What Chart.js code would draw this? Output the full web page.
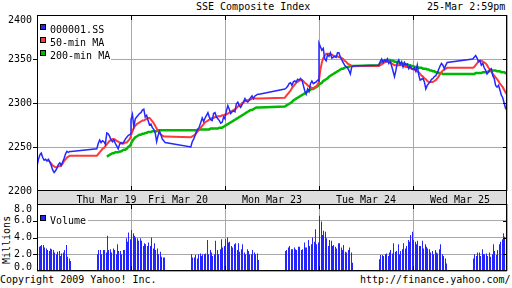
<!DOCTYPE html>
<html>
<head>
<meta charset="utf-8">
<script src="https://cdn.jsdelivr.net/npm/chart.js@4/dist/chart.umd.min.js"></script>
<style>
body{margin:0;background:#fff;width:512px;height:288px;overflow:hidden;position:relative;font:10px "DejaVu Sans Mono",monospace;color:#000}
canvas{position:absolute;left:0}
.t{position:absolute;white-space:pre;line-height:12px}
</style>
</head>
<body>
<div class="t" style="left:196px;top:1px">SSE Composite Index</div>
<div class="t" style="left:427px;top:1px">25-Mar 2:59pm</div>
<div class="t" style="left:-17px;top:234px;width:48px;text-align:center;transform:rotate(-90deg)">Millions</div>
<div class="t" style="left:0;top:274px">Copyright 2009 Yahoo! Inc.</div>
<div class="t" style="left:360px;top:274px">http://finance.yahoo.com/</div>
<canvas id="priceChart" width="512" height="205" style="top:0"></canvas>
<canvas id="volChart" width="512" height="84" style="top:204px"></canvas>
<script>
// x axis = minutes after 9:30, lunch break kept, overnight removed (330 min per day)
const days = ["Thu Mar 19", "Fri Mar 20", "Mon Mar 23", "Tue Mar 24", "Wed Mar 25"]
const dayLabelAt = [244, 495, 825, 1155, 1485]
const dayEdges = [0, 330, 660, 990, 1320, 1650]
const sessionOpen = [0, 210]
const dayLength = 330
const priceTicks = [2200, 2250, 2300, 2350, 2400]
const volumeTicks = [0, 2, 4, 6, 8]

// 5-min points, 25 for the morning (9:30-11:30) then 25 for the afternoon (13:00-15:00)
const indexThu = [2228,2236,2241,2243,2238,2235,2236,2234,2236,2233,2229,2224,2221,2223,2226,2230,2232,2229,2233,2237,2242,2245,2244,2245,2245,
                  2248,2254,2258,2255,2257,2256,2253,2266,2265,2262,2258,2256,2258,2254,2251,2248,2253,2255,2254,2256,2259,2261,2263,2264,2265]
const indexFri = [2281,2287,2273,2282,2284,2286,2288,2289,2292,2293,2284,2286,2280,2275,2276,2272,2270,2266,2256,2263,2268,2264,2259,2257,2255,
                  2250,2256,2259,2263,2268,2270,2273,2278,2283,2279,2283,2286,2289,2284,2281,2280,2288,2289,2284,2282,2280,2277,2278,2284,2282]
const indexMon = [2284,2291,2297,2293,2288,2290,2291,2290,2299,2301,2297,2295,2298,2301,2305,2302,2301,2303,2306,2308,2305,2308,2309,2310,2310,
                  2316,2317,2319,2322,2323,2320,2324,2325,2324,2327,2326,2328,2326,2320,2314,2310,2316,2313,2322,2325,2322,2323,2324,2326,2325]
const indexTue = [2368,2364,2360,2362,2350,2348,2355,2353,2357,2351,2352,2353,2352,2357,2357,2352,2349,2346,2343,2341,2340,2337,2333,2341,2342,
                  2343,2347,2350,2346,2349,2347,2350,2345,2347,2342,2336,2330,2337,2346,2349,2344,2347,2341,2346,2343,2344,2339,2342,2339,2338]
const indexWed = [2338,2340,2336,2343,2332,2326,2327,2328,2324,2316,2320,2322,2324,2327,2328,2330,2331,2334,2338,2342,2345,2343,2339,2343,2346,
                  2350,2352,2354,2351,2347,2348,2343,2345,2340,2337,2333,2335,2338,2339,2331,2328,2320,2318,2320,2315,2309,2306,2300,2294,2292]

const ma50Thu = [null,null,null,null,null,null,null,null,2235,2233,2231,2229,2228,2227,2227,2228,2228,2229,2231,2234,2236,2238,2239,2240,2240,
                 2240,2242,2244,2246,2248,2249,2251,2253,2255,2257,2258,2259,2259,2258,2257,2256,2255,2254,2254,2254,2255,2255,2257,2259,2262]
const ma50Fri = [2263,2268,2272,2274,2276,2277,2278,2279,2280,2280,2281,2282,2283,2283,2281,2279,2277,2274,2271,2268,2266,2264,2263,2262,2262,
                 2261,2262,2263,2264,2266,2268,2270,2272,2274,2276,2278,2279,2280,2281,2282,2283,2283,2284,2284,2285,2285,2285,2286,2286,2287]
const ma50Mon = [2287,2287,2288,2289,2290,2291,2292,2293,2294,2296,2297,2298,2300,2301,2302,2303,2303,2304,2304,2305,2305,2305,2305,2305,2305,
                 2306,2308,2310,2312,2314,2317,2319,2321,2323,2324,2325,2326,2326,2325,2323,2322,2320,2319,2318,2317,2317,2318,2319,2321,2324]
const ma50Tue = [2326,2338,2346,2351,2354,2356,2356,2356,2355,2355,2354,2353,2353,2353,2352,2352,2351,2350,2348,2347,2345,2344,2343,2342,2342,
                 2342,2343,2344,2345,2346,2347,2347,2347,2346,2345,2344,2343,2343,2343,2343,2343,2343,2342,2342,2341,2341,2340,2340,2339,2339]
const ma50Wed = [2339,2338,2337,2336,2335,2333,2331,2330,2328,2327,2325,2324,2324,2324,2324,2325,2326,2328,2330,2333,2335,2337,2338,2339,2340,
                 2340,2341,2343,2345,2347,2348,2348,2347,2346,2345,2343,2340,2338,2336,2333,2331,2329,2327,2325,2322,2320,2318,2315,2312,2310]

const ma200Thu = [null,null,null,null,null,null,null,null,null,null,null,null,null,null,null,null,null,null,null,null,null,null,null,null,null,
                  null,null,null,null,null,null,null,2239,2240,2241,2242,2243,2243,2244,2244,2244,2245,2245,2246,2247,2247,2248,2250,2251,2253]
const ma200Fri = [2254,2257,2259,2261,2262,2263,2264,2264,2265,2265,2266,2266,2267,2267,2267,2268,2268,2268,2268,2269,2269,2269,2269,2269,2269,
                  2269,2269,2269,2269,2269,2270,2270,2270,2270,2270,2270,2270,2270,2270,2271,2271,2271,2271,2271,2271,2272,2272,2272,2273,2274]
const ma200Mon = [2274,2275,2276,2277,2278,2279,2280,2281,2282,2283,2284,2285,2286,2287,2288,2289,2290,2291,2292,2292,2293,2294,2295,2295,2295,
                  2296,2297,2298,2299,2300,2301,2303,2304,2305,2306,2307,2308,2309,2310,2311,2312,2313,2314,2315,2316,2316,2317,2318,2319,2321]
const ma200Tue = [2321,2322,2323,2325,2326,2327,2328,2330,2331,2332,2333,2334,2335,2336,2337,2338,2339,2339,2340,2341,2341,2341,2342,2342,2342,
                  2343,2345,2347,2348,2348,2349,2349,2349,2349,2348,2348,2347,2347,2346,2346,2345,2345,2345,2344,2344,2344,2343,2343,2342,2342]
const ma200Wed = [2342,2341,2341,2341,2340,2340,2340,2339,2339,2339,2338,2338,2337,2337,2336,2336,2335,2335,2334,2334,2334,2333,2333,2333,2333,
                  2333,2333,2334,2334,2334,2334,2334,2335,2335,2335,2335,2336,2336,2337,2337,2337,2337,2336,2336,2336,2335,2335,2335,2334,2333]

// volume in millions, 5-min bars: 24 morning then 24 afternoon
const volThu = [2.6,2.9,3.0,3.1,3.1,2.8,2.7,2.5,2.4,2.7,2.6,2.5,2.2,2.0,2.3,2.4,1.8,2.1,2.2,2.5,3.1,1.7,1.5,1.2,
                2.0,2.5,2.5,2.0,2.5,2.5,2.2,4.2,2.5,2.6,2.2,2.7,2.5,2.0,3.2,2.4,2.4,2.0,2.5,2.5,3.9,3.5,4.6,3.8]
const volFri = [4.9,4.5,4.2,4.0,3.9,3.6,3.9,3.6,3.0,3.3,3.2,3.0,3.4,3.0,4.0,2.7,3.3,2.5,2.7,2.0,2.3,1.7,1.6,1.6,
                2.0,1.6,1.6,1.9,1.5,2.0,2.1,1.8,2.0,2.0,2.1,3.7,2.0,2.5,2.2,1.8,2.0,3.6,2.5,2.0,2.6,3.8,2.8,3.0]
const volMon = [3.8,4.0,3.4,3.5,3.0,2.8,3.2,3.3,2.5,3.3,2.3,2.6,3.2,2.2,2.0,2.6,2.4,2.0,2.0,2.5,2.2,2.0,2.1,1.3,
                2.4,2.5,2.8,3.0,2.6,2.6,2.8,2.6,2.5,2.9,2.9,2.5,2.6,3.4,2.8,2.8,3.7,3.0,3.2,4.0,3.5,5.0,3.2,3.4]
const volTue = [6.6,5.9,4.3,4.8,4.7,3.9,3.0,3.7,3.6,3.0,3.1,2.9,2.7,3.3,3.3,2.8,2.5,3.1,2.3,2.2,2.5,2.8,2.2,1.0,
                1.4,1.9,1.9,1.8,2.0,2.1,1.8,2.2,2.5,2.1,3.3,2.3,2.4,3.2,2.0,2.4,2.6,3.3,2.7,3.0,3.7,3.5,4.3,4.7]
const volWed = [3.7,3.5,3.2,3.6,3.0,3.0,3.6,2.7,3.2,2.9,2.7,2.6,2.2,2.4,2.0,2.5,2.2,2.1,2.6,3.2,2.0,1.8,1.5,0.9,
                1.5,2.0,1.8,2.2,2.2,1.8,2.6,2.0,2.0,2.1,1.8,2.2,1.7,2.0,3.2,2.4,1.9,2.5,3.2,3.5,3.8,4.5,4.1,6.6]

const FONT = '10px "DejaVu Sans Mono"'
const BLUE = '#2626ff'
const RED = '#ff3838'
const GREEN = '#00b800'
const GRID = '#a8a8a8'

function toPoints(dayArrays, offset){
    const pts = []
    dayArrays.forEach((vals, d) => {
        const perSession = vals.length / 2
        vals.forEach((v, i) => {
            const s = i < perSession ? 0 : 1
            pts.push({x: d * dayLength + sessionOpen[s] + (i % perSession) * 5 + offset, y: v})
        })
    })
    return pts
}

// black box, inner tick marks and y labels
const frame = {
    id: 'frame',
    afterDraw(chart, args, opts){
        const {ctx, chartArea: a, scales} = chart
        ctx.save()
        ctx.strokeStyle = '#000'
        ctx.lineWidth = 1
        ctx.strokeRect(a.left + 0.5, a.top + 0.5, a.right - a.left - 1, a.bottom - a.top - 1)
        ctx.beginPath()
        scales.x.ticks.forEach(t => {
            if (t.value <= scales.x.min || t.value >= scales.x.max) return
            const x = Math.round(scales.x.getPixelForValue(t.value)) + 0.5
            ctx.moveTo(x, a.top); ctx.lineTo(x, a.top + 5)
            ctx.moveTo(x, a.bottom); ctx.lineTo(x, a.bottom - 5)
        })
        scales.y.ticks.forEach(t => {
            if (t.value <= scales.y.min || t.value >= scales.y.max) return
            const y = Math.round(scales.y.getPixelForValue(t.value)) + 0.5
            ctx.moveTo(a.left - 4, y); ctx.lineTo(a.left, y)
            ctx.moveTo(a.right, y); ctx.lineTo(a.right - 4, y)
        })
        ctx.stroke()
        ctx.fillStyle = '#000'
        ctx.font = FONT
        ctx.textAlign = 'right'
        ctx.textBaseline = 'middle'
        scales.y.ticks.forEach(t => {
            let y = Math.max(scales.y.getPixelForValue(t.value), a.top + 5)
            if (opts.clampBottom) y = Math.min(y, a.bottom - 4)
            ctx.fillText(opts.format(t.value), a.left - 5, y)
        })
        ctx.restore()
    }
}

const boxLegend = {
    id: 'boxLegend',
    afterDatasetsDraw(chart, args, opts){
        const {ctx, chartArea: a} = chart
        ctx.save()
        ctx.fillStyle = '#fff'
        ctx.fillRect(a.left + 1, a.top + 1, opts.width, opts.height)
        ctx.font = FONT
        ctx.textBaseline = 'alphabetic'
        ctx.lineWidth = 1
        chart.data.datasets.forEach((ds, i) => {
            const top = a.top + opts.first + i * 13
            ctx.fillStyle = ds.backgroundColor
            ctx.fillRect(a.left + 3, top, 6, 6)
            ctx.strokeStyle = '#000'
            ctx.strokeRect(a.left + 3.5, top + 0.5, 5, 5)
            ctx.fillStyle = '#000'
            ctx.fillText(ds.label, a.left + 13, top + 8.5)
        })
        ctx.restore()
    }
}

const dateBand = {
    id: 'dateBand',
    afterDraw(chart){
        const {ctx, chartArea: a, scales} = chart
        ctx.save()
        ctx.fillStyle = '#dddddd'
        ctx.fillRect(a.left, a.bottom, a.right - a.left, chart.height - a.bottom)
        ctx.strokeStyle = '#000'
        ctx.beginPath()
        ctx.moveTo(a.left + 0.5, a.bottom); ctx.lineTo(a.left + 0.5, chart.height)
        ctx.moveTo(a.right - 0.5, a.bottom); ctx.lineTo(a.right - 0.5, chart.height)
        ctx.stroke()
        ctx.fillStyle = '#000'
        ctx.font = FONT
        ctx.textAlign = 'center'
        ctx.textBaseline = 'alphabetic'
        days.forEach((d, i) => ctx.fillText(d, scales.x.getPixelForValue(dayLabelAt[i]), a.bottom + 11.5))
        ctx.restore()
    }
}

// snap the thin volume bars onto whole pixels so they stay crisp
const crispBars = {
    id: 'crispBars',
    beforeDatasetsDraw(chart){
        chart.getDatasetMeta(0).data.forEach(bar => {
            bar.x = Math.floor(bar.x) + 0.5
            bar.width = 1
        })
    }
}

function dayAxis(){
    return {
        type: 'linear', min: 0, max: 1650, offset: false,
        afterBuildTicks: s => { s.ticks = dayEdges.map(v => ({value: v})) },
        ticks: {display: false},
        grid: {color: GRID, drawTicks: false, offset: false},
        border: {display: false}
    }
}

new Chart(document.getElementById('priceChart'), {
    type: 'line',
    data: {
        datasets: [
            {label: '000001.SS', data: toPoints([indexThu, indexFri, indexMon, indexTue, indexWed], 0),
             borderColor: BLUE, backgroundColor: BLUE, borderWidth: 1.5},
            {label: '50-min MA', data: toPoints([ma50Thu, ma50Fri, ma50Mon, ma50Tue, ma50Wed], 0),
             borderColor: RED, backgroundColor: RED, borderWidth: 2},
            {label: '200-min MA', data: toPoints([ma200Thu, ma200Fri, ma200Mon, ma200Tue, ma200Wed], 0),
             borderColor: GREEN, backgroundColor: GREEN, borderWidth: 2.5}
        ]
    },
    options: {
        responsive: false,
        animation: false,
        elements: {point: {radius: 0}, line: {tension: 0}},
        layout: {padding: {left: 37, right: 5, top: 15, bottom: 14}},
        plugins: {
            legend: {display: false},
            tooltip: {enabled: false},
            frame: {format: v => String(v), clampBottom: false},
            boxLegend: {first: 9, width: 73, height: 45}
        },
        scales: {
            x: dayAxis(),
            y: {
                min: 2200, max: 2400,
                afterBuildTicks: s => { s.ticks = priceTicks.map(v => ({value: v})) },
                ticks: {display: false},
                grid: {color: GRID, drawTicks: false},
                border: {display: false}
            }
        }
    },
    plugins: [boxLegend, dateBand, frame]
})

new Chart(document.getElementById('volChart'), {
    type: 'bar',
    data: {
        datasets: [
            {label: 'Volume', data: toPoints([volThu, volFri, volMon, volTue, volWed], 2.5),
             backgroundColor: '#2424ff', barPercentage: 1, categoryPercentage: 0.8}
        ]
    },
    options: {
        responsive: false,
        animation: false,
        layout: {padding: {left: 37, right: 5, top: 0, bottom: 17}},
        plugins: {
            legend: {display: false},
            tooltip: {enabled: false},
            frame: {format: v => v.toFixed(1), clampBottom: true},
            boxLegend: {first: 11, width: 50, height: 20}
        },
        scales: {
            x: dayAxis(),
            y: {
                min: 0, max: 8,
                afterBuildTicks: s => { s.ticks = volumeTicks.map(v => ({value: v})) },
                ticks: {display: false},
                grid: {color: GRID, drawTicks: false},
                border: {display: false}
            }
        }
    },
    plugins: [crispBars, boxLegend, frame]
})
</script>
</body>
</html>
